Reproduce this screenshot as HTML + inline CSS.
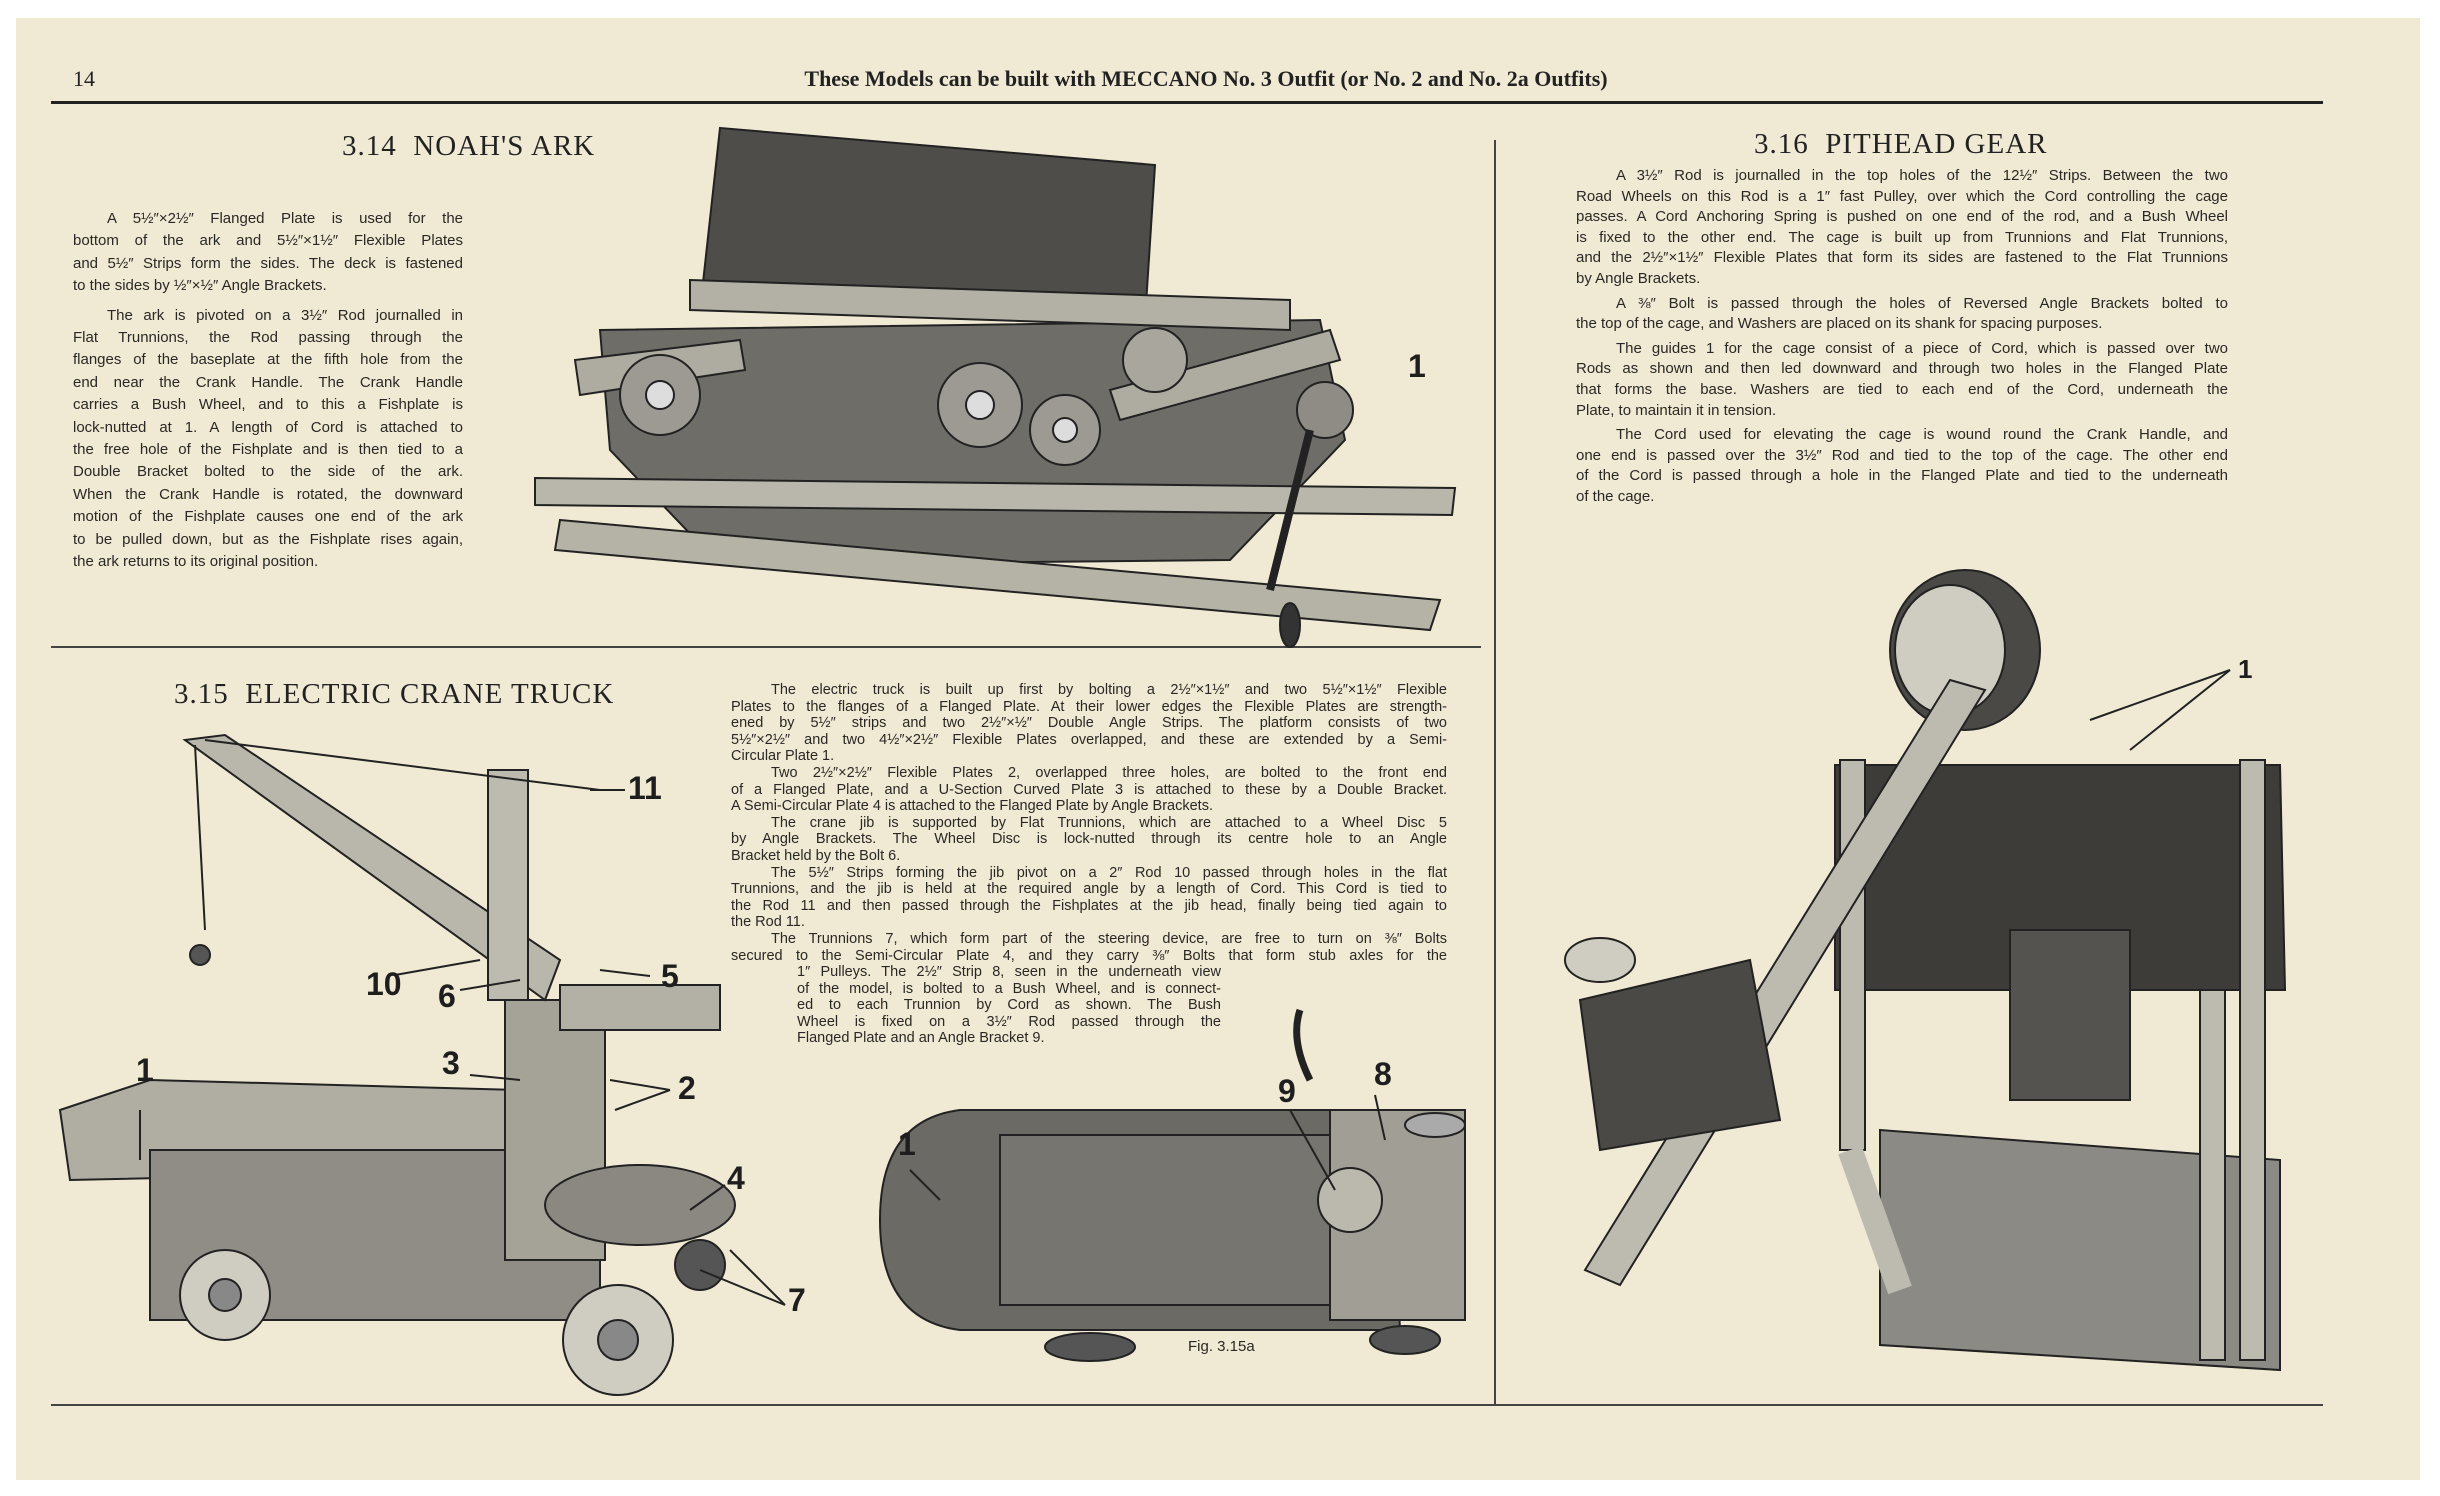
<!DOCTYPE html>
<html><head><meta charset="utf-8"><style>
html,body{margin:0;padding:0;background:#fff;}
#pg{position:absolute;left:16px;top:18px;width:2404px;height:1462px;background:#f0e9d4;overflow:hidden;}
.a{position:absolute;}
.t{font-family:"Liberation Sans",sans-serif;color:#2a2824;}
.ln{text-align:justify;text-align-last:justify;white-space:nowrap;}
.ll{text-align:left;white-space:nowrap;}
.h{font-family:"Liberation Serif",serif;font-weight:bold;color:#222;}
.n{font-family:"Liberation Sans",sans-serif;font-weight:bold;color:#1e1e1e;font-size:32px;position:absolute;}
</style></head><body>
<div id="pg">
<div class="a h" style="left:57px;top:48px;font-size:22px;font-weight:normal;">14</div>
<div class="a h" style="left:700px;top:48px;width:980px;text-align:center;font-size:22px;">These Models can be built with MECCANO No. 3 Outfit (or No. 2 and No. 2a Outfits)</div>
<div class="a" style="left:35px;top:83px;width:2272px;height:3px;background:#222;"></div>
<div class="a" style="left:1478px;top:122px;width:2px;height:1264px;background:#444;"></div>
<div class="a" style="left:35px;top:628px;width:1430px;height:2px;background:#444;"></div>
<div class="a" style="left:35px;top:1386px;width:2272px;height:2px;background:#444;"></div>

<div class="a h" style="left:326px;top:112px;font-size:29px;font-weight:normal;letter-spacing:1px;">3.14&nbsp; NOAH'S ARK</div>
<div class="a h" style="left:158px;top:660px;font-size:29px;font-weight:normal;letter-spacing:1px;">3.15&nbsp; ELECTRIC CRANE TRUCK</div>
<div class="a h" style="left:1738px;top:110px;font-size:29px;font-weight:normal;letter-spacing:1px;">3.16&nbsp; PITHEAD GEAR</div>

<div class="a t" style="left:57px;top:190px;width:390px;font-size:15px;line-height:22.4px;">
<div class="ln" style="padding-left:34px">A 5½″×2½″ Flanged Plate is used for the</div>
<div class="ln">bottom of the ark and 5½″×1½″ Flexible Plates</div>
<div class="ln">and 5½″ Strips form the sides. The deck is fastened</div>
<div class="ll">to the sides by ½″×½″ Angle Brackets.</div>
<div style="height:7px"></div>
<div class="ln" style="padding-left:34px">The ark is pivoted on a 3½″ Rod journalled in</div>
<div class="ln">Flat Trunnions, the Rod passing through the</div>
<div class="ln">flanges of the baseplate at the fifth hole from the</div>
<div class="ln">end near the Crank Handle. The Crank Handle</div>
<div class="ln">carries a Bush Wheel, and to this a Fishplate is</div>
<div class="ln">lock-nutted at 1. A length of Cord is attached to</div>
<div class="ln">the free hole of the Fishplate and is then tied to a</div>
<div class="ln">Double Bracket bolted to the side of the ark.</div>
<div class="ln">When the Crank Handle is rotated, the downward</div>
<div class="ln">motion of the Fishplate causes one end of the ark</div>
<div class="ln">to be pulled down, but as the Fishplate rises again,</div>
<div class="ll">the ark returns to its original position.</div>
</div>

<div class="a t" style="left:715px;top:664px;width:716px;font-size:14.5px;line-height:16.6px;">
<div class="ln" style="padding-left:40px">The electric truck is built up first by bolting a 2½″×1½″ and two 5½″×1½″ Flexible</div>
<div class="ln">Plates to the flanges of a Flanged Plate. At their lower edges the Flexible Plates are strength-</div>
<div class="ln">ened by 5½″ strips and two 2½″×½″ Double Angle Strips. The platform consists of two</div>
<div class="ln">5½″×2½″ and two 4½″×2½″ Flexible Plates overlapped, and these are extended by a Semi-</div>
<div class="ll">Circular Plate 1.</div>
<div class="ln" style="padding-left:40px">Two 2½″×2½″ Flexible Plates 2, overlapped three holes, are bolted to the front end</div>
<div class="ln">of a Flanged Plate, and a U-Section Curved Plate 3 is attached to these by a Double Bracket.</div>
<div class="ll">A Semi-Circular Plate 4 is attached to the Flanged Plate by Angle Brackets.</div>
<div class="ln" style="padding-left:40px">The crane jib is supported by Flat Trunnions, which are attached to a Wheel Disc 5</div>
<div class="ln">by Angle Brackets. The Wheel Disc is lock-nutted through its centre hole to an Angle</div>
<div class="ll">Bracket held by the Bolt 6.</div>
<div class="ln" style="padding-left:40px">The 5½″ Strips forming the jib pivot on a 2″ Rod 10 passed through holes in the flat</div>
<div class="ln">Trunnions, and the jib is held at the required angle by a length of Cord. This Cord is tied to</div>
<div class="ln">the Rod 11 and then passed through the Fishplates at the jib head, finally being tied again to</div>
<div class="ll">the Rod 11.</div>
<div class="ln" style="padding-left:40px">The Trunnions 7, which form part of the steering device, are free to turn on ⅜″ Bolts</div>
<div class="ln">secured to the Semi-Circular Plate 4, and they carry ⅜″ Bolts that form stub axles for the</div>
<div style="margin-left:66px;width:424px;">
<div class="ln">1″ Pulleys. The 2½″ Strip 8, seen in the underneath view</div>
<div class="ln">of the model, is bolted to a Bush Wheel, and is connect-</div>
<div class="ln">ed to each Trunnion by Cord as shown. The Bush</div>
<div class="ln">Wheel is fixed on a 3½″ Rod passed through the</div>
<div class="ll">Flanged Plate and an Angle Bracket 9.</div>
</div></div>

<div class="a t" style="left:1560px;top:148px;width:652px;font-size:15px;line-height:20.6px;">
<div class="ln" style="padding-left:40px">A 3½″ Rod is journalled in the top holes of the 12½″ Strips. Between the two</div>
<div class="ln">Road Wheels on this Rod is a 1″ fast Pulley, over which the Cord controlling the cage</div>
<div class="ln">passes. A Cord Anchoring Spring is pushed on one end of the rod, and a Bush Wheel</div>
<div class="ln">is fixed to the other end. The cage is built up from Trunnions and Flat Trunnions,</div>
<div class="ln">and the 2½″×1½″ Flexible Plates that form its sides are fastened to the Flat Trunnions</div>
<div class="ll">by Angle Brackets.</div>
<div style="height:4px"></div>
<div class="ln" style="padding-left:40px">A ⅜″ Bolt is passed through the holes of Reversed Angle Brackets bolted to</div>
<div class="ll">the top of the cage, and Washers are placed on its shank for spacing purposes.</div>
<div style="height:4px"></div>
<div class="ln" style="padding-left:40px">The guides 1 for the cage consist of a piece of Cord, which is passed over two</div>
<div class="ln">Rods as shown and then led downward and through two holes in the Flanged Plate</div>
<div class="ln">that forms the base. Washers are tied to each end of the Cord, underneath the</div>
<div class="ll">Plate, to maintain it in tension.</div>
<div style="height:4px"></div>
<div class="ln" style="padding-left:40px">The Cord used for elevating the cage is wound round the Crank Handle, and</div>
<div class="ln">one end is passed over the 3½″ Rod and tied to the top of the cage. The other end</div>
<div class="ln">of the Cord is passed through a hole in the Flanged Plate and tied to the underneath</div>
<div class="ll">of the cage.</div>
</div>

<svg class="a" style="left:0;top:0" width="2404" height="1462" viewBox="16 18 2404 1462">
<g stroke="#222" stroke-width="2">
<polygon points="720,128 1155,165 1145,320 700,310" fill="#4e4d4a"/>
<polygon points="600,330 1320,320 1345,440 1230,560 720,565 610,450" fill="#6e6d68"/>
<polygon points="535,478 1455,488 1452,515 535,505" fill="#b9b6ab"/>
<polygon points="560,520 1440,600 1430,630 555,550" fill="#b5b2a6"/>
<polygon points="690,280 1290,300 1290,330 690,310" fill="#b3b0a5"/>
<polygon points="575,360 740,340 745,370 580,395" fill="#aeaba0"/>
<polygon points="1110,390 1330,330 1340,360 1120,420" fill="#aeaba0"/>
<circle cx="660" cy="395" r="40" fill="#9c9a92"/><circle cx="660" cy="395" r="14" fill="#ddd"/>
<circle cx="980" cy="405" r="42" fill="#9c9a92"/><circle cx="980" cy="405" r="14" fill="#ddd"/>
<circle cx="1065" cy="430" r="35" fill="#9c9a92"/><circle cx="1065" cy="430" r="12" fill="#ddd"/>
<circle cx="1155" cy="360" r="32" fill="#a8a69d"/>
<circle cx="1325" cy="410" r="28" fill="#8e8c85"/>
<line x1="1310" y1="430" x2="1270" y2="590" stroke-width="8"/>
<ellipse cx="1290" cy="625" rx="10" ry="22" fill="#333"/>
<polygon points="60,1110 150,1080 520,1090 520,1170 70,1180" fill="#b0ada3"/>
<rect x="150" y="1150" width="450" height="170" fill="#8f8d86"/>
<rect x="505" y="1000" width="100" height="260" fill="#a5a298"/>
<polygon points="185,740 225,735 560,960 545,1000" fill="#b9b6ab"/>
<rect x="488" y="770" width="40" height="230" fill="#bdbab0"/>
<line x1="195" y1="745" x2="205" y2="930" stroke-width="2"/>
<line x1="205" y1="740" x2="600" y2="790" stroke-width="2"/>
<circle cx="200" cy="955" r="10" fill="#555"/>
<polygon points="560,985 720,985 720,1030 560,1030" fill="#b3b0a5"/>
<ellipse cx="640" cy="1205" rx="95" ry="40" fill="#8a8880"/>
<circle cx="225" cy="1295" r="45" fill="#cfccc2"/><circle cx="225" cy="1295" r="16" fill="#888"/>
<circle cx="618" cy="1340" r="55" fill="#cfccc2"/><circle cx="618" cy="1340" r="20" fill="#888"/>
<circle cx="700" cy="1265" r="25" fill="#555"/>
<line x1="140" y1="1110" x2="140" y2="1160"/>
<line x1="625" y1="790" x2="590" y2="790"/>
<line x1="395" y1="975" x2="480" y2="960"/>
<line x1="460" y1="990" x2="520" y2="980"/>
<line x1="650" y1="976" x2="600" y2="970"/>
<line x1="470" y1="1075" x2="520" y2="1080"/>
<line x1="670" y1="1090" x2="610" y2="1080"/>
<line x1="670" y1="1090" x2="615" y2="1110"/>
<line x1="725" y1="1185" x2="690" y2="1210"/>
<line x1="785" y1="1305" x2="730" y2="1250"/>
<line x1="785" y1="1305" x2="700" y2="1270"/>
<path d="M960,1110 L1390,1110 L1400,1330 L960,1330 Q880,1320 880,1220 Q880,1120 960,1110 Z" fill="#6b6a65"/>
<rect x="1000" y="1135" width="340" height="170" fill="#77756f"/>
<rect x="1330" y="1110" width="135" height="210" fill="#a09e95"/>
<circle cx="1350" cy="1200" r="32" fill="#bbb8ae"/>
<ellipse cx="1090" cy="1347" rx="45" ry="14" fill="#555"/>
<ellipse cx="1405" cy="1340" rx="35" ry="14" fill="#555"/>
<ellipse cx="1435" cy="1125" rx="30" ry="12" fill="#aaa"/>
<path d="M1310,1080 Q1290,1040 1300,1010" fill="none" stroke-width="7"/>
<line x1="910" y1="1170" x2="940" y2="1200"/>
<line x1="1290" y1="1110" x2="1335" y2="1190"/>
<line x1="1375" y1="1095" x2="1385" y2="1140"/>
<polygon points="1835,765 2280,765 2285,990 1835,990" fill="#3d3c39"/>
<polygon points="1880,1130 2280,1160 2280,1370 1880,1345" fill="#8c8a84"/>
<rect x="1840" y="760" width="25" height="390" fill="#bdbab0"/>
<rect x="2240" y="760" width="25" height="600" fill="#bdbab0"/>
<rect x="2200" y="990" width="25" height="370" fill="#bdbab0"/>
<rect x="2010" y="930" width="120" height="170" fill="#55534f"/>
<ellipse cx="1965" cy="650" rx="75" ry="80" fill="#4a4946"/>
<ellipse cx="1950" cy="650" rx="55" ry="65" fill="#cfccc2"/>
<polygon points="1950,680 1985,690 1620,1285 1585,1270" fill="#bdbab0"/>
<polygon points="1580,1000 1750,960 1780,1120 1600,1150" fill="#4a4946"/>
<ellipse cx="1600" cy="960" rx="35" ry="22" fill="#cfccc2"/>
<line x1="1850" y1="1150" x2="1900" y2="1290" stroke-width="25" stroke="#bdbab0"/>
<line x1="2230" y1="670" x2="2090" y2="720"/>
<line x1="2230" y1="670" x2="2130" y2="750"/>
</g>
</svg>
<div class="n" style="left:1392px;top:330px;">1</div>
<div class="n" style="left:612px;top:752px;">11</div>
<div class="n" style="left:350px;top:948px;">10</div>
<div class="n" style="left:422px;top:960px;">6</div>
<div class="n" style="left:645px;top:940px;">5</div>
<div class="n" style="left:426px;top:1027px;">3</div>
<div class="n" style="left:662px;top:1052px;">2</div>
<div class="n" style="left:120px;top:1034px;">1</div>
<div class="n" style="left:711px;top:1142px;">4</div>
<div class="n" style="left:772px;top:1264px;">7</div>
<div class="n" style="left:882px;top:1108px;">1</div>
<div class="n" style="left:1262px;top:1055px;">9</div>
<div class="n" style="left:1358px;top:1038px;">8</div>
<div class="n" style="left:2222px;top:636px;font-size:26px;">1</div>
<div class="a t" style="left:1172px;top:1320px;font-size:15px;">Fig. 3.15a</div>
</div>
</body></html>
